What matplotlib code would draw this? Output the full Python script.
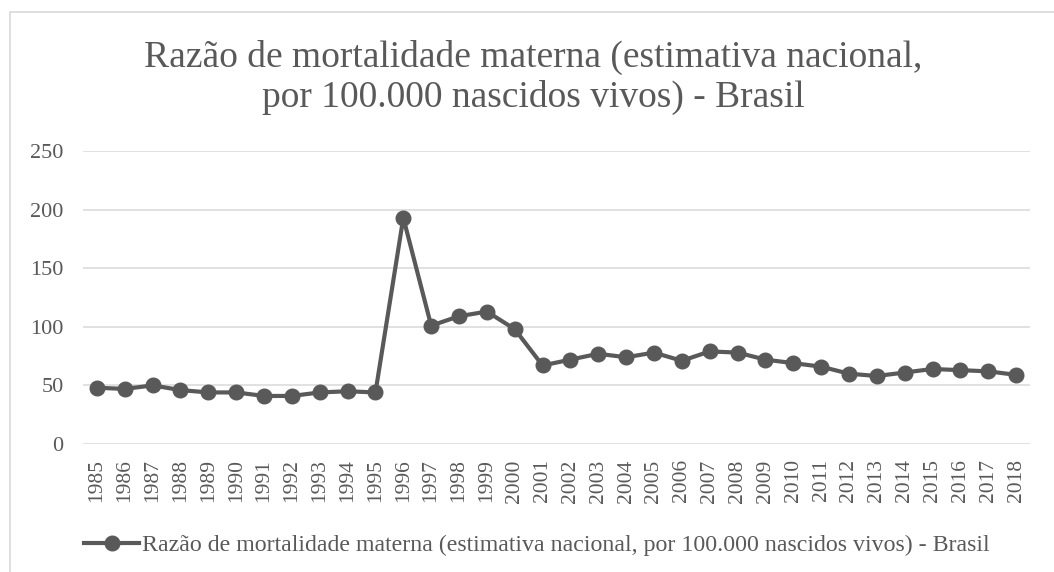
import matplotlib
matplotlib.use("Agg")
import matplotlib.pyplot as plt
from matplotlib.patches import Rectangle

years = [str(y) for y in range(1985, 2019)]
values = [48, 47, 50, 46, 44, 44, 41, 41, 44, 45, 44,
          193, 101, 109, 113, 98, 67, 72, 77, 74, 78, 71, 79, 78,
          72, 69, 66, 60, 58, 61, 64, 63, 62, 59]
yticks = [0, 50, 100, 150, 200, 250]
title_lines = ["Razão de mortalidade materna (estimativa nacional,",
               "por 100.000 nascidos vivos) - Brasil"]
series_name = "Razão de mortalidade materna (estimativa nacional, por 100.000 nascidos vivos) - Brasil"

W, H = 1054, 572
plt.rcParams['font.family'] = ['Liberation Serif', 'DejaVu Serif']
TXT = '#595959'
LINE = '#595959'
GRID = '#d9d9d9'

fig = plt.figure(figsize=(W / 100, H / 100), dpi=100)
fig.patch.set_facecolor('white')

# outer chart border
fig.patches.append(Rectangle((10 / W, -0.1), 1.2, 1 - 12 / H + 0.1,
                             transform=fig.transFigure, fill=False,
                             edgecolor=GRID, linewidth=1.2))

ax = fig.add_axes([83 / W, 1 - 444 / H, (1030 - 83) / W, (444 - 151) / H])
x = list(range(len(years)))
ax.plot(x, values, color=LINE, linewidth=3.0, marker='o', markersize=10.5,
        label=series_name, zorder=3)
ax.set_xlim(-0.5, len(years) - 0.5)
ax.set_ylim(0, 250)
ax.set_yticks(yticks)
ax.set_yticklabels([str(v) for v in yticks])
ax.set_xticks(x)
ax.set_xticklabels(years, rotation=90)
ax.tick_params(axis='y', length=0, pad=14, labelsize=16, labelcolor=TXT)
ax.tick_params(axis='x', length=0, pad=11, labelsize=15.5, labelcolor=TXT)
ax.grid(axis='y', color=GRID, linewidth=1.1)
ax.set_axisbelow(True)
for s in ax.spines.values():
    s.set_visible(False)

fig.text(533 / W, 1 - 67 / H, title_lines[0], ha='center', va='baseline',
         fontsize=27, color=TXT)
fig.text(533 / W, 1 - 107 / H, title_lines[1], ha='center', va='baseline',
         fontsize=27, color=TXT)

fig.legend(loc='center', bbox_to_anchor=(537 / W, 1 - 545 / H), frameon=False,
           fontsize=17.2, labelcolor=TXT, handlelength=2.3, handletextpad=0.12,
           borderpad=0)

fig.savefig('out.png', dpi=100)
